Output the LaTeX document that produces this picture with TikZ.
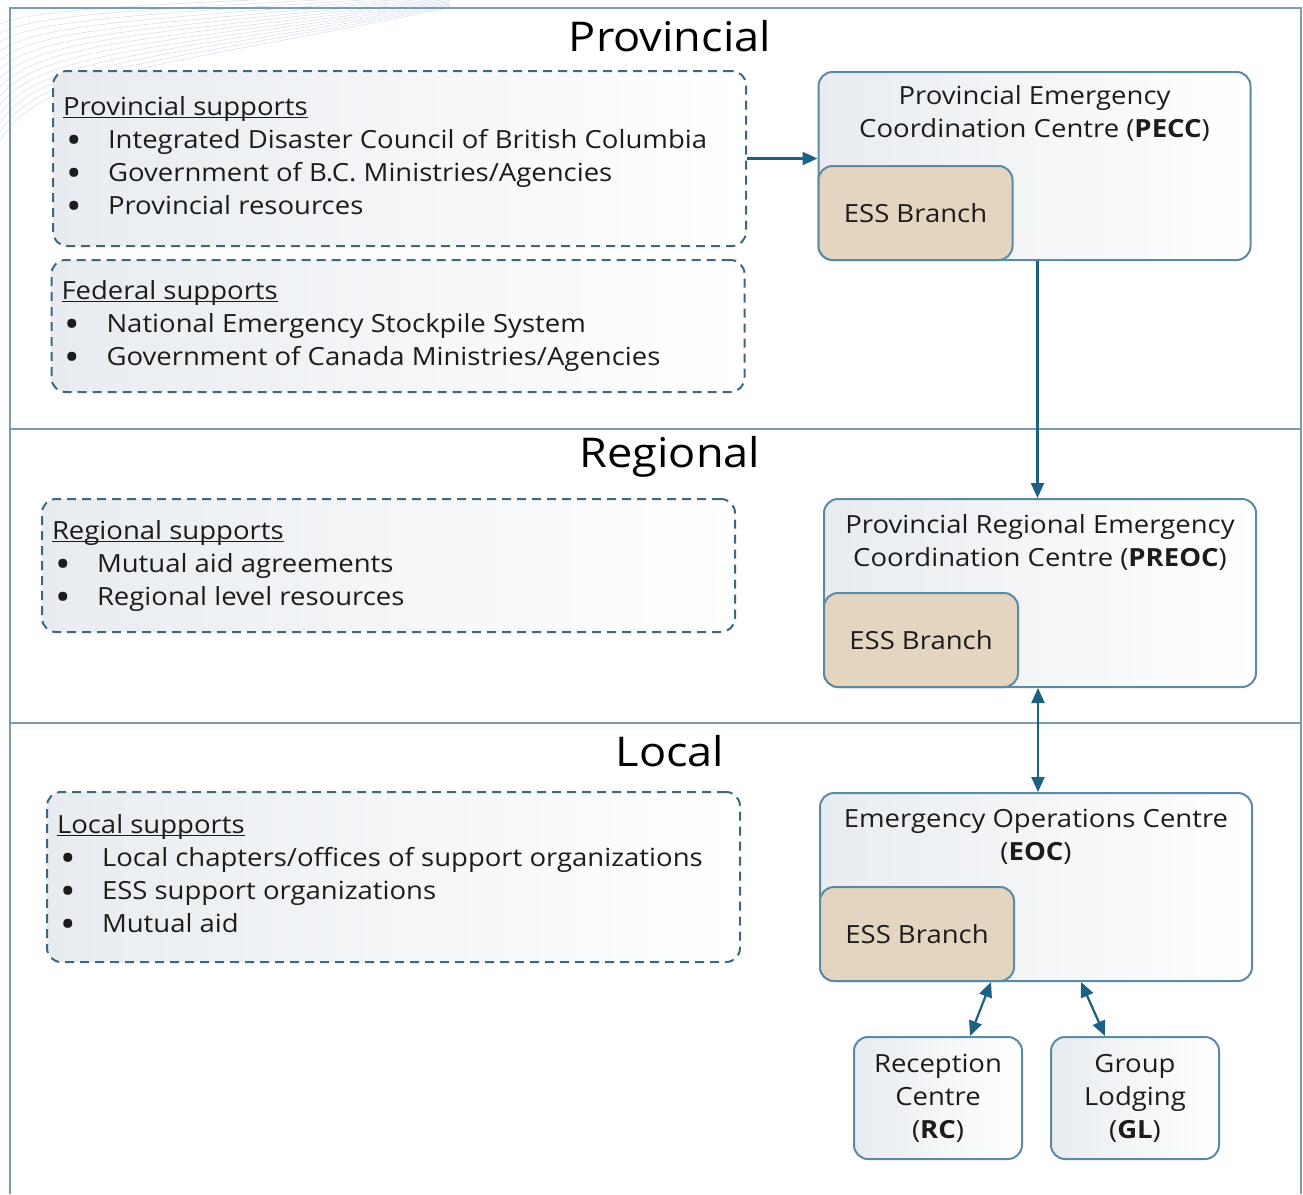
\documentclass[tikz,border=0pt]{standalone}
\usepackage{fontspec}
\setmainfont[FakeStretch=1.1]{Open Sans}
\usetikzlibrary{positioning, calc}
\usetikzlibrary{arrows.meta}

\newcommand{\bitem}[1]{\hspace*{3pt}\makebox[42pt][l]{\raisebox{-0.2em}{\scalebox{1.5}{\textbullet}}}#1}
\newcommand{\heading}[1]{\underline{\smash{#1}}\vphantom{Pp}}

\begin{document}
\begin{tikzpicture}[x=1pt, y=-1pt, font=\fontsize{25}{33}\selectfont, >={Triangle[length=15pt,width=13pt]}, line width=2pt]
        % Define colors
        \definecolor{framecol}{RGB}{122,156,176}
        \definecolor{boxcol}{RGB}{92,138,164}
        \definecolor{dashcol}{RGB}{62,104,128}
        \definecolor{arrowcol}{RGB}{28,96,130}
        \definecolor{tan}{RGB}{227,213,191}
        \definecolor{fillgrey}{RGB}{232,236,240}
        \definecolor{inkcol}{RGB}{28,28,28}
        \definecolor{wavecol}{RGB}{222,228,236}

        % Styles
        \tikzset{
            supbox/.style={draw=dashcol, dash pattern=on 9pt off 6pt, rounded corners=14pt, left color=fillgrey, right color=white, minimum width=693pt},
            suptext/.style={inner sep=0pt, align=left, anchor=north west, text=inkcol},
            centrebox/.style={draw=boxcol, rounded corners=14pt, left color=fillgrey, right color=white, minimum width=432pt, minimum height=188pt},
            centretitle/.style={inner sep=0pt, align=center, text=inkcol},
            essbox/.style={draw=boxcol, fill=tan, rounded corners=14pt, minimum width=194pt, minimum height=94pt, text=inkcol},
            sitebox/.style={draw=boxcol, rounded corners=14pt, left color=fillgrey, right color=white, minimum width=168pt, minimum height=122pt, align=center, text=inkcol},
            leveltitle/.style={font=\fontsize{41}{50}\selectfont, text=black},
            link/.style={draw=arrowcol, line width=2.2pt}
        }

        \useasboundingbox (0,0) rectangle (1303,1194);

        % Background waves
        \foreach \k in {0,...,13} {
            \draw[wavecol, line width=0.7pt] (0,{24+9*\k}) .. controls (40,{8+5*\k}) and (150,{4+5*\k}) .. (450,{-8+1.2*\k});
        }

        % Frame and level lines
        \draw[framecol] (10,1194) -- (10,8) -- (1301,8) -- (1301,1194);
        \draw[framecol, line width=1.5pt] (10,429) -- (1301,429);
        \draw[framecol, line width=1.5pt] (10,723) -- (1301,723);

        \node[leveltitle] (provtitle) at (670,36) {Provincial};
        \node[leveltitle] (regtitle) at (670,457) {Regional};
        \node[leveltitle] (localtitle) at (670,751) {Local};

        % Supports
        \node[supbox, minimum height=175pt] (provbox) at (399.5,158.5) {};
        \node[suptext, below right=27pt and 10pt of provbox.north west] (provtext) {\heading{Provincial supports}\\
            \bitem{Integrated Disaster Council of British Columbia}\\
            \bitem{Government of B.C. Ministries/Agencies}\\
            \bitem{Provincial resources}};

        \node[supbox, minimum height=132pt] (fedbox) at (398,326) {};
        \node[suptext, below right=22pt and 10pt of fedbox.north west] (fedtext) {\heading{Federal supports}\\
            \bitem{National Emergency Stockpile System}\\
            \bitem{Government of Canada Ministries/Agencies}};

        \node[supbox, minimum height=133pt] (regbox) at (388.5,565.5) {};
        \node[suptext, below right=23pt and 10pt of regbox.north west] (regtext) {\heading{Regional supports}\\
            \bitem{Mutual aid agreements}\\
            \bitem{Regional level resources}};

        \node[supbox, minimum height=170pt] (localbox) at (393.5,877) {};
        \node[suptext, below right=24pt and 10pt of localbox.north west] (localtext) {\heading{Local supports}\\
            \bitem{Local chapters/offices of support organizations}\\
            \bitem{ESS support organizations}\\
            \bitem{Mutual aid}};

        % Centres
        \node[centrebox] (pecc) at (1034.5,166) {};
        \node[centretitle, below=14pt of pecc.north] (pecctitle) {Provincial Emergency\\Coordination Centre (\textbf{PECC})};
        \node[essbox, anchor=south west] (peccess) at (pecc.south west) {ESS Branch};

        \node[centrebox] (preoc) at (1040,593) {};
        \node[centretitle, below=15pt of preoc.north] (preoctitle) {Provincial Regional Emergency\\Coordination Centre (\textbf{PREOC})};
        \node[essbox, anchor=south west] (preocess) at (preoc.south west) {ESS Branch};

        \node[centrebox] (eoc) at (1036,887) {};
        \node[centretitle, below=16pt of eoc.north] (eoctitle) {Emergency Operations Centre\\(\textbf{EOC})};
        \node[essbox, anchor=south west] (eocess) at (eoc.south west) {ESS Branch};

        \node[sitebox] (rc) at (938,1098) {Reception\\Centre\\(\textbf{RC})};
        \node[sitebox, right=27pt of rc] (gl) {Group\\Lodging\\(\textbf{GL})};

        % Edges
        \draw[link, ->] (provbox.east) -- (provbox.east -| pecc.west);
        \draw[link, ->] ([xshift=3pt]pecc.south) -- ([xshift=3pt]pecc.south |- preoc.north);
        \draw[link, <->] ([xshift=-2pt]preoc.south) -- ([xshift=-2pt]preoc.south |- eoc.north);
        \draw[link, <->] ([xshift=172pt]eoc.south west) -- ([xshift=32pt]rc.north);
        \draw[link, <->] ([xshift=262pt]eoc.south west) -- ([xshift=-30pt]gl.north);
    \end{tikzpicture}
\end{document}
